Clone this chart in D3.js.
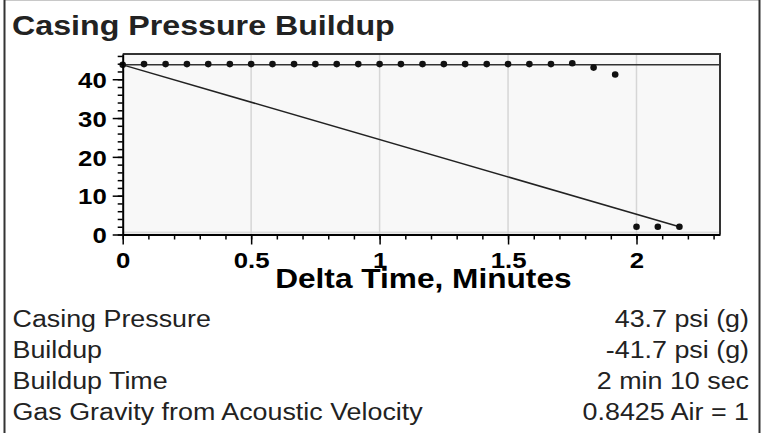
<!DOCTYPE html>
<html>
<head>
<meta charset="utf-8">
<script src="https://cdn.jsdelivr.net/npm/d3@7"></script>
<style>
  html, body { margin: 0; padding: 0; background: #fff; }
  svg { display: block; }
</style>
</head>
<body>
<svg id="chart" width="767" height="433"></svg>
<script>
// ---------------- data ----------------
const chartTitle = "Casing Pressure Buildup";
const xAxisTitle = "Delta Time, Minutes";
// delta time (minutes) of each acoustic pressure sample
const times = [0, 0.083, 0.167, 0.25, 0.333, 0.417, 0.5, 0.583, 0.667, 0.75, 0.833, 0.917,
               1.0, 1.083, 1.167, 1.25, 1.333, 1.417, 1.5, 1.583, 1.667, 1.75, 1.833, 1.917,
               2.0, 2.083, 2.167];
// casing pressure, psi (g)
const pressures = [43.7, 43.9, 43.9, 43.9, 43.9, 43.9, 43.9, 43.9, 43.9, 43.9, 43.9, 43.9,
                   43.9, 43.9, 43.9, 43.9, 43.9, 43.9, 43.9, 43.9, 43.9, 44.1, 43.0, 41.2,
                   2.0, 2.0, 2.0];
// reference level (casing pressure) and buildup trend line
const casingPressure = 43.7;
const trendTimes = [0, 2.167];
const trendValues = [43.7, 2.0];
// axes
const xDomain = [0, 2.325];
const yDomain = [0, 46.5];
const xMajorTicks = [0, 0.5, 1, 1.5, 2];
const xTickLabels = ["0", "0.5", "1", "1.5", "2"];
const yMajorTicks = [0, 10, 20, 30, 40];
const yTickLabels = ["0", "10", "20", "30", "40"];
const xGridTicks = [0.5, 1, 1.5, 2];
// summary table
const rowLabels = ["Casing Pressure", "Buildup", "Buildup Time", "Gas Gravity from Acoustic Velocity"];
const rowValues = ["43.7 psi (g)", "-41.7 psi (g)", "2 min 10 sec", "0.8425 Air = 1"];

// ---------------- drawing ----------------
const svg = d3.select("#chart");
const W = 767, H = 433;
const stretch = 1.13;
const tickStretch = 1.12;
const font = "Arial, 'Liberation Sans', Helvetica, sans-serif";

const plot = {left: 122.7, right: 720, top: 54, bottom: 234.5};
const x = d3.scaleLinear().domain(xDomain).range([plot.left, plot.right]);
const y = d3.scaleLinear().domain(yDomain).range([plot.bottom, plot.top]);

// outer frame
svg.append("line").attr("x1", 4).attr("x2", 760).attr("y1", 0.5).attr("y2", 0.5)
  .attr("stroke", "#c8c8c8").attr("stroke-width", 1);
svg.append("line").attr("x1", 4.5).attr("x2", 4.5).attr("y1", 0).attr("y2", H)
  .attr("stroke", "#333").attr("stroke-width", 2);
svg.append("line").attr("x1", 759.5).attr("x2", 759.5).attr("y1", 0).attr("y2", H)
  .attr("stroke", "#333").attr("stroke-width", 2);

// title
svg.append("text")
  .attr("transform", `translate(12,35) scale(${stretch},1)`)
  .attr("font-family", font).attr("font-weight", "bold").attr("font-size", 28.5)
  .attr("fill", "#222").text(chartTitle);

// plot background
svg.append("rect").attr("x", plot.left).attr("y", plot.top)
  .attr("width", plot.right - plot.left).attr("height", plot.bottom - plot.top)
  .attr("fill", "#f8f8f8");
svg.append("line").attr("x1", plot.left).attr("x2", plot.right)
  .attr("y1", plot.bottom - 2).attr("y2", plot.bottom - 2)
  .attr("stroke", "#dcdcdc").attr("stroke-width", 2);

// vertical grid
svg.append("g").selectAll("line").data(xGridTicks).join("line")
  .attr("x1", d => x(d)).attr("x2", d => x(d))
  .attr("y1", plot.top).attr("y2", plot.bottom)
  .attr("stroke", "#d6d6d6").attr("stroke-width", 1.5);

// plot frame (top & right)
svg.append("path")
  .attr("d", `M${plot.left},${plot.top}H${plot.right}V${plot.bottom}`)
  .attr("fill", "none").attr("stroke", "#333").attr("stroke-width", 2);

// casing pressure reference line
svg.append("line")
  .attr("x1", plot.left).attr("x2", plot.right)
  .attr("y1", y(casingPressure)).attr("y2", y(casingPressure))
  .attr("stroke", "#333").attr("stroke-width", 1.5);

// trend line
const trend = trendTimes.map((t, i) => [t, trendValues[i]]);
svg.append("path").datum(trend)
  .attr("d", d3.line().x(d => x(d[0])).y(d => y(d[1])))
  .attr("fill", "none").attr("stroke", "#222").attr("stroke-width", 1.5);

// points
svg.append("g").selectAll("circle").data(times.map((t, i) => [t, pressures[i]])).join("circle")
  .attr("cx", d => x(d[0])).attr("cy", d => y(d[1])).attr("r", 3.3)
  .attr("fill", "#111");

// x axis: minor ticks
svg.append("g").attr("transform", `translate(0,${plot.bottom})`)
  .call(d3.axisBottom(x).tickValues(d3.range(0, 2.35, 0.1)).tickSize(5).tickSizeOuter(0).tickFormat(""))
  .call(g => g.select(".domain").attr("stroke", "#000").attr("stroke-width", 2))
  .call(g => g.selectAll(".tick line").attr("stroke", "#000").attr("stroke-width", 1.5));
// x axis: major ticks + labels
svg.append("g").attr("transform", `translate(0,${plot.bottom})`)
  .call(d3.axisBottom(x).tickValues(xMajorTicks).tickSize(10).tickSizeOuter(0)
        .tickFormat((d, i) => xTickLabels[i]))
  .call(g => g.select(".domain").remove())
  .call(g => g.selectAll(".tick line").attr("stroke", "#000").attr("stroke-width", 1.5))
  .call(g => g.selectAll(".tick text")
     .attr("y", 17.5).attr("dy", "0.71em")
     .attr("transform", `scale(${tickStretch},1)`)
     .attr("font-family", font).attr("font-weight", "bold").attr("font-size", 23)
     .attr("fill", "#000"));

// y axis: minor ticks
svg.append("g").attr("transform", `translate(${plot.left},0)`)
  .call(d3.axisLeft(y).tickValues(d3.range(0, 47, 2)).tickSize(5).tickSizeOuter(0).tickFormat(""))
  .call(g => g.select(".domain").attr("stroke", "#000").attr("stroke-width", 2))
  .call(g => g.selectAll(".tick line").attr("stroke", "#000").attr("stroke-width", 1.5));
// y axis: major ticks + labels
svg.append("g").attr("transform", `translate(${plot.left},0)`)
  .call(d3.axisLeft(y).tickValues(yMajorTicks).tickSize(10).tickSizeOuter(0)
        .tickFormat((d, i) => yTickLabels[i]))
  .call(g => g.select(".domain").remove())
  .call(g => g.selectAll(".tick line").attr("stroke", "#000").attr("stroke-width", 1.5))
  .call(g => g.selectAll(".tick text")
     .attr("x", -16 / tickStretch).attr("dy", "0.36em")
     .attr("transform", `scale(${tickStretch},1)`)
     .attr("font-family", font).attr("font-weight", "bold").attr("font-size", 23)
     .attr("fill", "#000"));

// x axis title
svg.append("text")
  .attr("transform", `translate(${(plot.left + plot.right) / 2 + 2},288) scale(${stretch},1)`)
  .attr("text-anchor", "middle")
  .attr("font-family", font).attr("font-weight", "bold").attr("font-size", 28)
  .attr("fill", "#000").text(xAxisTitle);

// summary table
const rowY = d3.scalePoint().domain(d3.range(rowLabels.length)).range([327, 420]);
svg.append("g").selectAll("text").data(rowLabels).join("text")
  .attr("transform", (d, i) => `translate(12.5,${rowY(i)}) scale(${stretch * 0.97},1)`)
  .attr("font-family", font).attr("font-size", 24.5).attr("fill", "#222")
  .text(d => d);
svg.append("g").selectAll("text").data(rowValues).join("text")
  .attr("transform", (d, i) => `translate(749,${rowY(i)}) scale(${stretch * 0.97},1)`)
  .attr("text-anchor", "end")
  .attr("font-family", font).attr("font-size", 24.5).attr("fill", "#222")
  .text(d => d);
</script>
</body>
</html>
